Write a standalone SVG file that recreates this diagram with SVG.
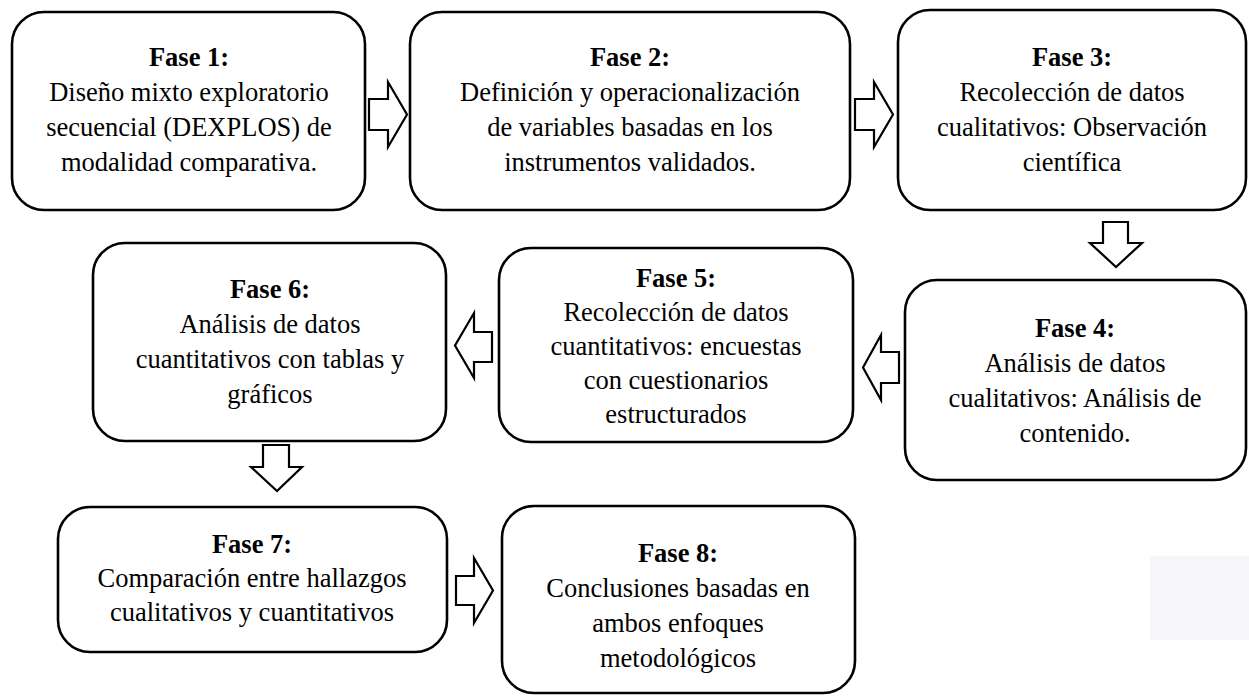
<svg xmlns="http://www.w3.org/2000/svg" width="1249" height="696" viewBox="0 0 1249 696">
<style>
.box{fill:#ffffff;stroke:#000000;stroke-width:2.6}
.arr{fill:#ffffff;stroke:#000000;stroke-width:2.2;stroke-linejoin:miter}
text{font-family:"Liberation Serif","Times New Roman",serif;font-size:26.5px;fill:#000000;text-anchor:middle}
.b{font-weight:bold}
</style>
<rect width="1249" height="696" fill="#ffffff"/>
<rect x="1150" y="556" width="99" height="84" fill="#f6f6f8"/>
<g id="connectors">
<polygon class="arr" points="369,99 388,99 388,82 407,114.5 388,147 388,130 369,130"/>
<polygon class="arr" points="855,99 874,99 874,82 893,114.5 874,147 874,130 855,130"/>
<polygon class="arr" points="1103,222 1128,222 1128,243 1142,243 1116,267 1090,243 1103,243"/>
<polygon class="arr" points="899,352 881,352 881,335 863,367.5 881,400 881,383 899,383"/>
<polygon class="arr" points="492,332 474,332 474,313 455,345.5 474,378 474,362 492,362"/>
<polygon class="arr" points="263,445 289,445 289,467 302,467 277,491 251,467 263,467"/>
<polygon class="arr" points="456,576 474,576 474,558 493,590.5 474,623 474,605 456,605"/>
</g>
<g id="fase1">
<rect class="box" x="12" y="12" width="353" height="198" rx="32"/>
<text x="189" y="66" class="b">Fase 1:</text>
<text x="189" y="101">Diseño mixto exploratorio</text>
<text x="189" y="136">secuencial (DEXPLOS) de</text>
<text x="189" y="171">modalidad comparativa.</text>
</g>
<g id="fase2">
<rect class="box" x="410" y="12" width="440" height="198" rx="32"/>
<text x="630" y="66" class="b">Fase 2:</text>
<text x="630" y="101">Definición y operacionalización</text>
<text x="630" y="136">de variables basadas en los</text>
<text x="630" y="171">instrumentos validados.</text>
</g>
<g id="fase3">
<rect class="box" x="898" y="10" width="348" height="200" rx="32"/>
<text x="1072" y="66" class="b">Fase 3:</text>
<text x="1072" y="101">Recolección de datos</text>
<text x="1072" y="136">cualitativos: Observación</text>
<text x="1072" y="171">científica</text>
</g>
<g id="fase4">
<rect class="box" x="905" y="280" width="341" height="200" rx="32"/>
<text x="1075" y="337" class="b">Fase 4:</text>
<text x="1075" y="372">Análisis de datos</text>
<text x="1075" y="407">cualitativos: Análisis de</text>
<text x="1075" y="442">contenido.</text>
</g>
<g id="fase5">
<rect class="box" x="499" y="248" width="354" height="194" rx="32"/>
<text x="676" y="287" class="b">Fase 5:</text>
<text x="676" y="321">Recolección de datos</text>
<text x="676" y="355">cuantitativos: encuestas</text>
<text x="676" y="389">con cuestionarios</text>
<text x="676" y="423">estructurados</text>
</g>
<g id="fase6">
<rect class="box" x="93" y="243" width="353" height="198" rx="32"/>
<text x="270" y="298" class="b">Fase 6:</text>
<text x="270" y="333">Análisis de datos</text>
<text x="270" y="368">cuantitativos con tablas y</text>
<text x="270" y="403">gráficos</text>
</g>
<g id="fase7">
<rect class="box" x="58" y="507" width="389" height="145" rx="32"/>
<text x="252" y="553" class="b">Fase 7:</text>
<text x="252" y="587">Comparación entre hallazgos</text>
<text x="252" y="621">cualitativos y cuantitativos</text>
</g>
<g id="fase8">
<rect class="box" x="502" y="506" width="353" height="187" rx="32"/>
<text x="678" y="562" class="b">Fase 8:</text>
<text x="678" y="597">Conclusiones basadas en</text>
<text x="678" y="632">ambos enfoques</text>
<text x="678" y="667">metodológicos</text>
</g>
</svg>
